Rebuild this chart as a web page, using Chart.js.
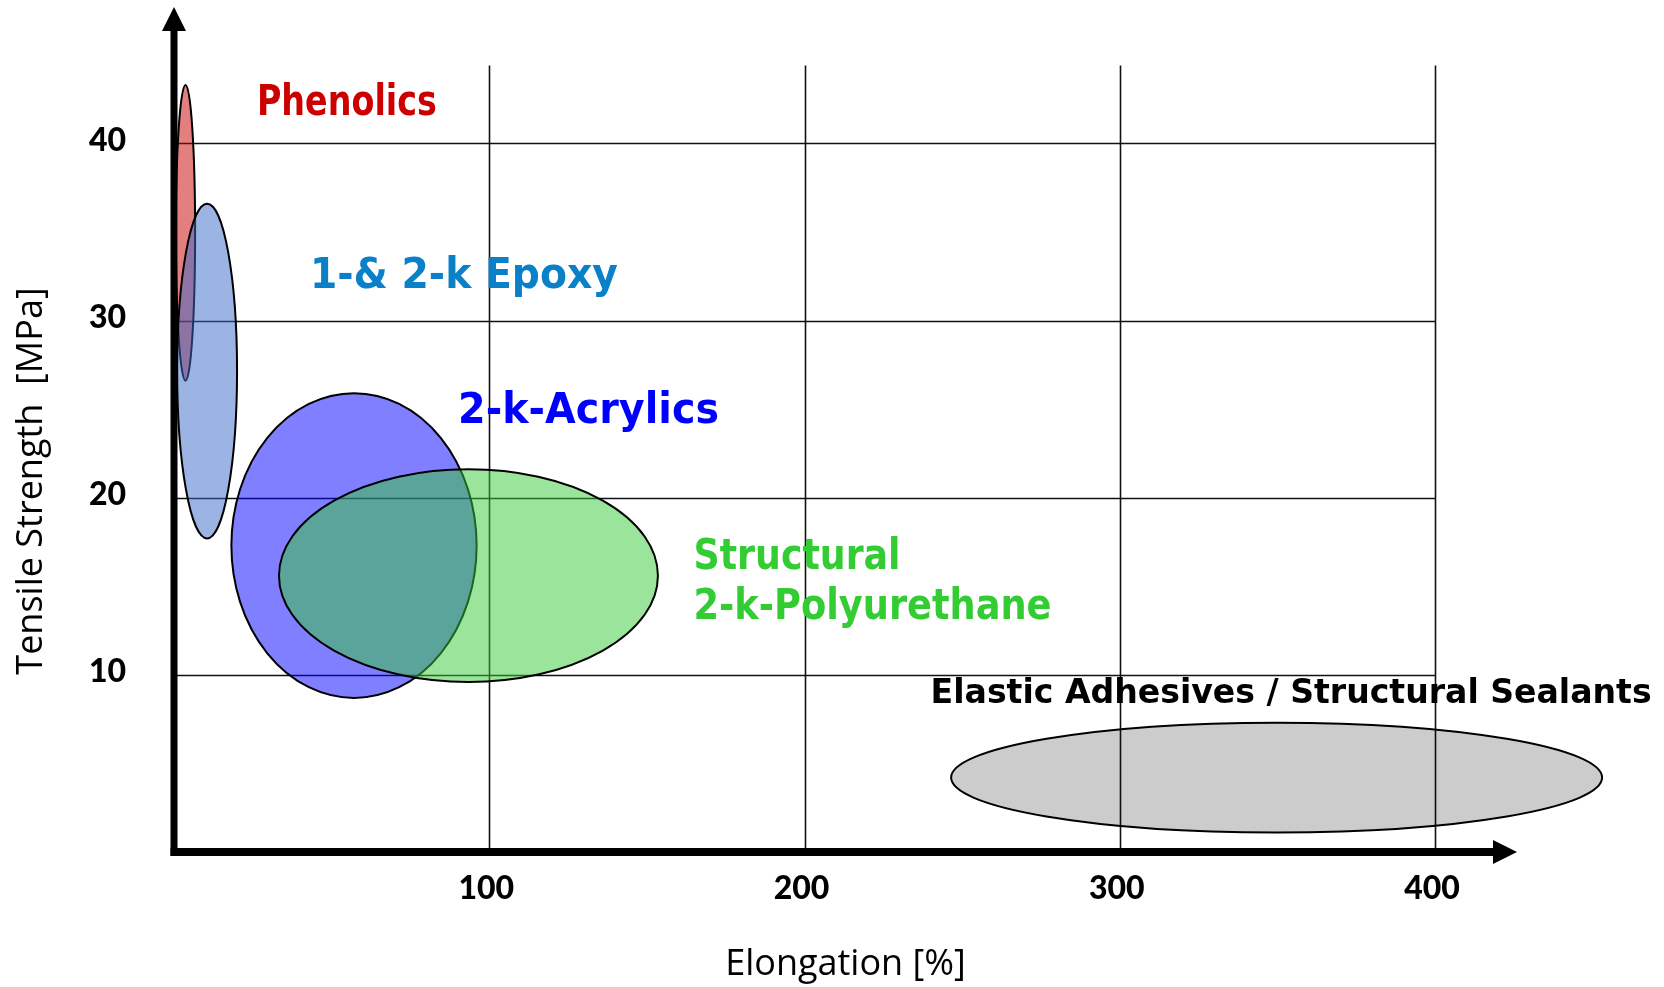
<!DOCTYPE html>
<html>
<head>
<meta charset="utf-8">
<title>Adhesives: tensile strength vs elongation</title>
<script src="https://cdn.jsdelivr.net/npm/chart.js@4.4.1/dist/chart.umd.min.js"></script>
<style>
  html, body { margin: 0; padding: 0; background: #fff; }
  #wrap { width: 1664px; height: 987px; position: relative; }
</style>
</head>
<body>
<div id="wrap"><canvas id="chart"></canvas></div>
<script>
// Adhesive families, each covering a range of elongation (%) and tensile strength (MPa)
const families = ['Phenolics', '1-& 2-k Epoxy', '2-k-Acrylics', 'Structural 2-k-Polyurethane', 'Elastic Adhesives / Structural Sealants'];
const elongationMin = [0.6, 1.0, 18.2, 33.3, 246.5];
const elongationMax = [6.7, 20.0, 96.0, 153.5, 453.0];
const strengthMin = [26.6, 17.7, 8.7, 9.6, 1.1];
const strengthMax = [43.3, 36.6, 25.9, 21.6, 7.3];

const xTicks = [100, 200, 300, 400];
const yTicks = [10, 20, 30, 40];

// axis arrows run a little past the grid
const xAxisEnd = 426;
const yAxisEnd = 47.7;
const gridTop = 44.4;

const fills = ['rgba(200,0,0,0.5)', 'rgba(55,105,201,0.5)', 'rgba(0,0,255,0.5)', 'rgba(55,201,55,0.5)', 'rgba(0,0,0,0.2)'];

// text tags: anchor in data units (left edge, first baseline), cap height and drawn width in px
const tags = [
  { lines: ['Phenolics'], x: 26.3, y: 41.6, color: '#CC0000', cap: 30, widths: [180] },
  { lines: ['1-& 2-k Epoxy'], x: 43.1, y: 31.84, color: '#0A80C8', cap: 31, widths: [308] },
  { lines: ['2-k-Acrylics'], x: 90.1, y: 24.22, color: '#0000FF', cap: 30, widths: [261] },
  { lines: ['Structural', '2-k-Polyurethane'], x: 164.8, y: 15.97, color: '#33CC33', cap: 31, widths: [207, 358], gap: 50 },
  { lines: ['Elastic Adhesives / Structural Sealants'], x: 240, y: 8.41, color: '#000000', cap: 24, widths: [721] }
];

const tagFont = '"Comic Sans MS", "Liberation Sans Narrow", "DejaVu Sans Condensed", sans-serif';

function fittedText(ctx, text, x, y, width) {
  const w = ctx.measureText(text).width;
  ctx.save();
  ctx.translate(x, y);
  ctx.scale(width / w, 1);
  ctx.fillText(text, 0, 0);
  ctx.restore();
}

const adhesiveMap = {
  id: 'adhesiveMap',
  beforeDatasetsDraw(chart) {
    const { ctx } = chart;
    const xs = chart.scales.x, ys = chart.scales.y;
    const x0 = xs.getPixelForValue(0), y0 = ys.getPixelForValue(0);
    const xEnd = xs.getPixelForValue(xAxisEnd), yEnd = ys.getPixelForValue(yAxisEnd);
    const gridRight = xs.getPixelForValue(xTicks[xTicks.length - 1]);
    const gridTopPx = ys.getPixelForValue(gridTop);

    ctx.save();
    // grid
    ctx.strokeStyle = '#111';
    ctx.lineWidth = 1.6;
    xTicks.forEach(v => {
      const px = Math.round(xs.getPixelForValue(v)) + 0.5;
      ctx.beginPath(); ctx.moveTo(px, gridTopPx); ctx.lineTo(px, y0); ctx.stroke();
    });
    yTicks.forEach(v => {
      const py = Math.round(ys.getPixelForValue(v)) + 0.5;
      ctx.beginPath(); ctx.moveTo(x0, py); ctx.lineTo(gridRight, py); ctx.stroke();
    });

    // axes with arrow heads
    ctx.strokeStyle = '#000';
    ctx.fillStyle = '#000';
    ctx.lineWidth = 7;
    ctx.beginPath(); ctx.moveTo(x0, y0 + 4); ctx.lineTo(x0, yEnd + 20); ctx.stroke();
    ctx.lineWidth = 8;
    ctx.beginPath(); ctx.moveTo(x0 - 3.5, y0); ctx.lineTo(xEnd - 20, y0); ctx.stroke();
    ctx.beginPath();
    ctx.moveTo(x0, yEnd); ctx.lineTo(x0 - 12, yEnd + 24); ctx.lineTo(x0 + 12, yEnd + 24); ctx.closePath();
    ctx.fill();
    ctx.beginPath();
    ctx.moveTo(xEnd, y0); ctx.lineTo(xEnd - 24, y0 - 12); ctx.lineTo(xEnd - 24, y0 + 12); ctx.closePath();
    ctx.fill();

    // each family as an ellipse spanning its two corner points
    chart.data.datasets.forEach((ds, i) => {
      const pts = chart.getDatasetMeta(i).data;
      const a = pts[0], b = pts[1];
      const cx = (a.x + b.x) / 2, cy = (a.y + b.y) / 2;
      const rx = Math.abs(b.x - a.x) / 2, ry = Math.abs(b.y - a.y) / 2;
      ctx.beginPath();
      ctx.ellipse(cx, cy, rx, ry, 0, 0, Math.PI * 2);
      ctx.fillStyle = ds.backgroundColor;
      ctx.fill();
      ctx.lineWidth = ds.borderWidth;
      ctx.strokeStyle = ds.borderColor;
      ctx.stroke();
    });

    // family names
    ctx.textAlign = 'left';
    ctx.textBaseline = 'alphabetic';
    tags.forEach(t => {
      ctx.font = 'bold ' + (t.cap / 0.716).toFixed(1) + 'px ' + tagFont;
      ctx.fillStyle = t.color;
      const px = xs.getPixelForValue(t.x), py = ys.getPixelForValue(t.y);
      t.lines.forEach((line, k) => fittedText(ctx, line, px, py + k * (t.gap || 0), t.widths[k]));
    });

    // vertical axis title
    ctx.save();
    ctx.translate(32, 481);
    ctx.rotate(-Math.PI / 2);
    ctx.textAlign = 'center';
    ctx.textBaseline = 'middle';
    ctx.font = '36px "Open Sans", sans-serif';
    ctx.fillStyle = '#000';
    ctx.fillText('Tensile Strength  [MPa]', 0, 0);
    ctx.restore();

    ctx.restore();
  }
};

const datasets = families.map((name, i) => ({
  label: name,
  data: [
    { x: elongationMin[i], y: strengthMin[i] },
    { x: elongationMax[i], y: strengthMax[i] }
  ],
  backgroundColor: fills[i],
  borderColor: '#000',
  borderWidth: 2,
  pointRadius: 0,
  pointHoverRadius: 0
}));

const tickFont = { family: 'Lato, "Open Sans", sans-serif', size: 32, weight: '900' };

new Chart(document.getElementById('chart'), {
  type: 'scatter',
  data: { datasets },
  options: {
    responsive: true,
    maintainAspectRatio: false,
    animation: false,
    layout: { padding: { top: 7, right: 147, left: 0, bottom: 0 } },
    plugins: { legend: { display: false }, tooltip: { enabled: false } },
    scales: {
      x: {
        type: 'linear',
        min: 0,
        max: xAxisEnd,
        afterFit: s => { s.height = 135; s.paddingLeft = 0; s.paddingRight = 0; },
        afterBuildTicks: s => { s.ticks = xTicks.map(v => ({ value: v })); },
        grid: { display: false, drawTicks: false },
        border: { display: false },
        ticks: { color: '#000', font: tickFont, padding: 17, labelOffset: -3, maxRotation: 0, autoSkip: false },
        title: {
          display: true,
          text: 'Elongation [%]',
          color: '#000',
          font: { family: '"Open Sans", sans-serif', size: 36 },
          padding: { top: 0, bottom: 1 }
        }
      },
      y: {
        type: 'linear',
        min: 0,
        max: yAxisEnd,
        afterFit: s => { s.width = 174; s.paddingTop = 0; s.paddingBottom = 0; },
        afterBuildTicks: s => { s.ticks = yTicks.map(v => ({ value: v })); },
        grid: { display: false, drawTicks: false },
        border: { display: false },
        ticks: { color: '#000', font: tickFont, padding: 48, labelOffset: -3, autoSkip: false }
      }
    }
  },
  plugins: [adhesiveMap]
});
</script>
</body>
</html>
